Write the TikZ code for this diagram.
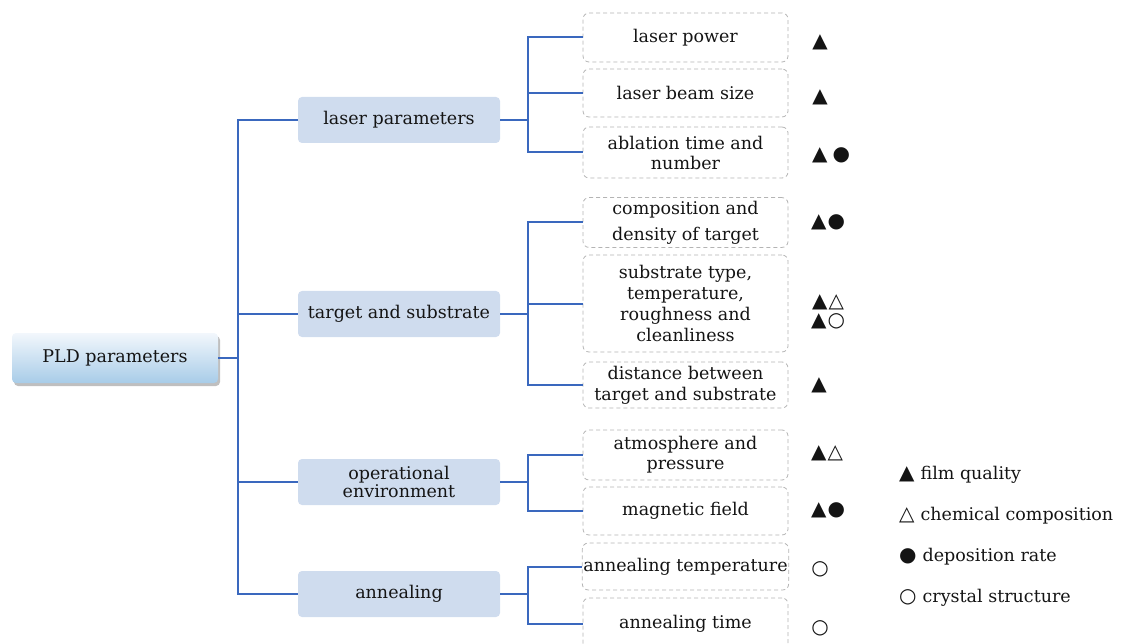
\documentclass[tikz,border=0pt]{standalone}
\usepackage{fontspec}
\setmainfont{DejaVu Serif}
\newfontfamily\symfont{DejaVu Sans}
\newcommand\legsymfont{\symfont\fontsize{20}{20}\selectfont}
\usetikzlibrary{shadows}
\definecolor{linkblue}{RGB}{58,104,190}
\definecolor{boxblue}{RGB}{207,220,238}
\definecolor{dashgray}{RGB}{180,180,180}
\definecolor{roottop}{RGB}{242,247,252}
\definecolor{rootbot}{RGB}{168,204,232}
\definecolor{ink}{RGB}{20,20,20}
\begin{document}
\begin{tikzpicture}[x=1pt,y=-1pt,
  txt/.style={font=\fontsize{17.5}{21}\selectfont, text=ink, align=center},
  rootbox/.style={txt, minimum width=206pt, minimum height=50pt, rounded corners=4pt,
    top color=roottop, bottom color=rootbot,
    drop shadow={shadow xshift=2pt, shadow yshift=-3pt, fill=black!50}},
  groupbox/.style={txt, fill=boxblue, rounded corners=4pt, minimum width=202pt, minimum height=46pt},
  leafbox/.style={txt, draw=dashgray, dash pattern=on 4pt off 3pt, rounded corners=6pt,
    minimum width=205pt, inner xsep=1pt, fill=white, line width=0.8pt},
  link/.style={draw=linkblue, line width=2pt},
  sym/.style={font=\symfont\fontsize{20}{17}\selectfont, text=ink, inner sep=0pt, align=center},
  legend/.style={font=\fontsize{17.5}{21}\selectfont, text=ink, anchor=west, inner sep=0pt}
]
\useasboundingbox (0,0) rectangle (1124,644);

% root
\node[rootbox] (root) at (115,358) {PLD parameters};

% groups
\node[groupbox] (lp) at (399,120) {laser parameters};
\node[groupbox] (ts) at (399,314) {target and substrate};
\node[groupbox] (oe) at (399,482) {operational\\[-3pt]environment};
\node[groupbox] (an) at (399,594) {annealing};

% leaves
\node[leafbox, minimum height=49pt] (l1) at (685.5,37.5) {laser power};
\node[leafbox, minimum height=48pt] (l2) at (685.5,93) {laser beam size};
\node[leafbox, minimum height=51pt] (l3) at (685.5,152.5) {ablation time and\\[-1pt]number};
\node[leafbox, minimum height=49pt] (t1) at (685.5,222.5) {composition and\\[5pt]density of target};
\node[leafbox, minimum height=97pt] (t2) at (685.5,303.5) {substrate type,\\temperature,\\roughness and\\cleanliness};
\node[leafbox, minimum height=46pt] (t3) at (685.5,385) {distance between\\target and substrate};
\node[leafbox, minimum height=50pt] (o1) at (685.5,455) {atmosphere and\\[-1pt]pressure};
\node[leafbox, minimum height=48pt] (o2) at (685.5,511) {magnetic field};
\node[leafbox, minimum height=47pt] (a1) at (685.5,566.5) {annealing temperature};
\node[leafbox, minimum height=52pt] (a2) at (685.5,624) {annealing time};

% connectors
\draw[link] (root.east) -- ++(20,0) |- (lp.west);
\draw[link] (root.east) -- ++(20,0) |- (ts.west);
\draw[link] (root.east) -- ++(20,0) |- (oe.west);
\draw[link] (root.east) -- ++(20,0) |- (an.west);

\draw[link] (lp.east) -- ++(28,0) |- (l1.west);
\draw[link] (lp.east) -- ++(28,0) |- (l2.west);
\draw[link] (lp.east) -- ++(28,0) |- (l3.west);
\draw[link] (ts.east) -- ++(28,0) |- (t1.west);
\draw[link] (ts.east) -- ++(28,0) |- (t2.west);
\draw[link] (ts.east) -- ++(28,0) |- (t3.west);
\draw[link] (oe.east) -- ++(28,0) |- (o1.west);
\draw[link] (oe.east) -- ++(28,0) |- (o2.west);
\draw[link] (an.east) -- ++(28,0) |- (a1.west);
\draw[link] (an.east) -- ++(28,0) |- (a2.west);

% symbols
\node[sym] (s1) at (820,42) {▲};
\node[sym] (s2) at (820,97) {▲};
\node[sym, anchor=west] (s3) at (812,155) {▲\hspace{5pt}●};
\node[sym, anchor=west] (s4) at (811,222) {▲\hspace{1pt}●};
\node[sym, anchor=west] (s5) at (811,312) {▲\hspace{1pt}△\\[2pt]▲\hspace{1pt}○};
\node[sym] (s6) at (819,385) {▲};
\node[sym, anchor=west] (s7) at (811,453) {▲\hspace{1pt}△};
\node[sym, anchor=west] (s8) at (811,510) {▲\hspace{1pt}●};
\node[sym] (s9) at (820,569) {○};
\node[sym] (s10) at (820,628) {○};

% legend
\node[legend] (g1) at (899,475) {{\legsymfont ▲}\hspace{6pt}film quality};
\node[legend] (g2) at (899,516) {{\legsymfont △}\hspace{6pt}chemical composition};
\node[legend] (g3) at (899,557) {{\legsymfont ●}\hspace{6pt}deposition rate};
\node[legend] (g4) at (899,598) {{\legsymfont ○}\hspace{6pt}crystal structure};
\end{tikzpicture}
\end{document}
